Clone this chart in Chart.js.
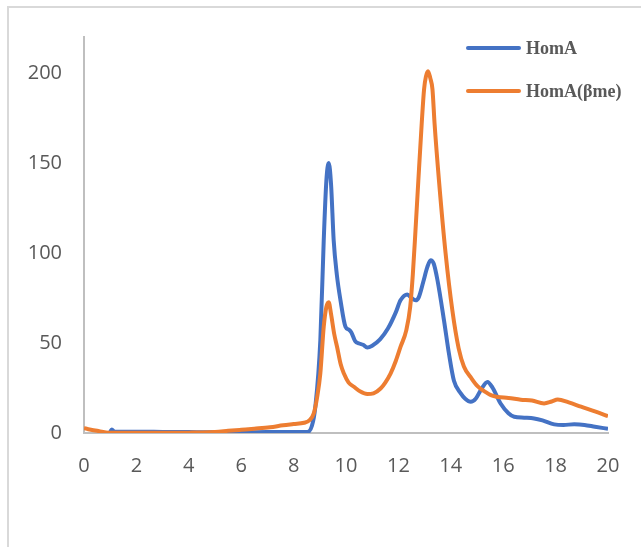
<!DOCTYPE html>
<html>
<head>
<meta charset="utf-8">
<script src="https://cdn.jsdelivr.net/npm/chart.js@4"></script>
<style>
    html, body { margin: 0; padding: 0; background: #fff; }
    #wrap { width: 641px; height: 547px; position: relative; }
</style>
</head>
<body>
<div id="wrap"><canvas id="elutionChart"></canvas></div>
<script>
// --- Data ---
const homAX = [1.0, 1.06, 1.15, 1.5, 2, 3, 4, 5, 6, 7, 8, 8.52, 8.7, 8.83, 9.02, 9.15, 9.25, 9.34, 9.43, 9.53,
    9.65, 9.79, 9.98, 10.1, 10.2, 10.35, 10.5, 10.65, 10.81, 11.0, 11.3, 11.6, 11.9, 12.08, 12.34, 12.5, 12.66,
    12.78, 12.95, 13.1, 13.23, 13.35, 13.49, 13.74, 13.93, 14.12, 14.38, 14.55, 14.76, 14.95, 15.15, 15.4, 15.6,
    15.9, 16.2, 16.42, 16.8, 17.18, 17.5, 17.95, 18.3, 18.71, 19.1, 19.5, 20.0];
const homAY = [0.6, 2, 0.8, 0.7, 0.7, 0.6, 0.5, 0.4, 0.4, 0.5, 0.5, 0.5, 4, 14.6, 51.5, 107, 140, 150, 138, 107,
    88, 73.7, 59, 57.5, 56, 51, 49.7, 49, 47.5, 48.5, 52, 58, 67, 73.7, 77, 75, 73.7,
    75.5, 84, 92, 96, 94, 85, 62.6, 44, 29, 22, 19, 17.3, 19, 24, 28.4, 25,
    16.4, 11, 9, 8.5, 8.1, 7, 4.8, 4.5, 4.8, 4.5, 3.5, 2.3];

const homABmeX = [0, 0.5, 1.0, 2, 3, 4, 4.5, 5, 5.5, 6, 6.5, 7.1, 7.6, 8.0, 8.4, 8.6, 8.77, 8.9, 9.02, 9.15,
    9.25, 9.34, 9.43, 9.55, 9.66, 9.8, 9.92, 10.1, 10.3, 10.55, 10.81, 11.05, 11.32, 11.5, 11.7, 11.9, 12.08,
    12.3, 12.45, 12.55, 12.65, 12.76, 12.89, 12.98, 13.05, 13.13, 13.22, 13.3, 13.38, 13.55, 13.8, 14.06, 14.3, 14.5,
    14.76, 15.02, 15.3, 15.53, 15.78, 16.2, 16.67, 17.1, 17.56, 17.85, 18.08, 18.5, 18.97, 19.5, 20.0];
const homABmeY = [2.6, 1.2, 0.2, 0.1, 0.1, 0.2, 0.3, 0.6, 1.2, 1.8, 2.4, 3.2, 4.3, 5, 5.7, 7, 10.9, 20, 33, 59,
    70, 72.7, 66, 55, 47.8, 38, 33, 28, 25.7, 23, 21.6, 22, 24.7, 28, 33, 40, 47.8,
    57, 70, 88, 112, 140, 172, 191, 198, 201, 197, 191, 172, 140, 100, 68, 47, 37,
    31, 26, 23, 21, 20, 19.5, 18.5, 18, 16.4, 17.5, 18.6, 17, 14.6, 12, 9.4];

const seriesLabels = ['HomA', 'HomA(βme)'];
const xTicks = [0, 2, 4, 6, 8, 10, 12, 14, 16, 18, 20];
const yTicks = [0, 50, 100, 150, 200];
const yAxisMax = 220;

const toPoints = (xs, ys) => xs.map((x, i) => ({ x, y: ys[i] }));

// light frame on left and top, like the exported figure
const framePlugin = {
    id: 'frame',
    beforeDraw(chart) {
        const c = chart.ctx;
        c.save();
        c.strokeStyle = '#D9D9D9';
        c.lineWidth = 2;
        c.beginPath();
        c.moveTo(8, chart.height);
        c.lineTo(8, 7);
        c.lineTo(chart.width, 7);
        c.stroke();
        c.restore();
    }
};

// legend drawn inside the plot, top right
const insideLegend = {
    id: 'insideLegend',
    afterDraw(chart) {
        const c = chart.ctx;
        c.save();
        chart.data.datasets.forEach((ds, i) => {
            const y = 48 + i * 43;
            c.strokeStyle = ds.borderColor;
            c.lineWidth = 4;
            c.lineCap = 'round';
            c.beginPath();
            c.moveTo(468, y);
            c.lineTo(519, y);
            c.stroke();
            c.fillStyle = '#595959';
            c.font = 'bold 18px "Liberation Serif", "Times New Roman", serif';
            c.textBaseline = 'middle';
            c.fillText(ds.label, 526, y + 1);
        });
        c.restore();
    }
};

const tickFont = { family: '"Open Sans", sans-serif', size: 20 };

new Chart(document.getElementById('elutionChart'), {
    type: 'line',
    data: {
        datasets: [{
            label: seriesLabels[0],
            data: toPoints(homAX, homAY),
            borderColor: '#4472C4',
            borderWidth: 4,
            pointRadius: 0,
            cubicInterpolationMode: 'monotone',
            order: 1
        }, {
            label: seriesLabels[1],
            data: toPoints(homABmeX, homABmeY),
            borderColor: '#ED7D31',
            borderWidth: 4,
            pointRadius: 0,
            cubicInterpolationMode: 'monotone',
            order: 0
        }]
    },
    options: {
        responsive: true,
        maintainAspectRatio: false,
        animation: false,
        layout: { padding: { left: 0, top: 37, right: 33, bottom: 0 } },
        plugins: {
            legend: { display: false },
            tooltip: { enabled: false }
        },
        scales: {
            x: {
                type: 'linear',
                min: 0,
                max: 20,
                afterBuildTicks: axis => { axis.ticks = xTicks.map(v => ({ value: v })); },
                afterFit: axis => { axis.height = 114; },
                grid: { display: false, drawTicks: false },
                border: { display: true, color: '#BFBFBF', width: 2 },
                ticks: { color: '#595959', font: tickFont, padding: 21, maxRotation: 0 }
            },
            y: {
                min: 0,
                max: yAxisMax,
                afterBuildTicks: axis => { axis.ticks = yTicks.map(v => ({ value: v })); },
                afterFit: axis => { axis.width = 84; },
                grid: { display: false, drawTicks: false },
                border: { display: true, color: '#BFBFBF', width: 2 },
                ticks: { color: '#595959', font: tickFont, padding: 22 }
            }
        }
    },
    plugins: [framePlugin, insideLegend]
});
</script>
</body>
</html>
